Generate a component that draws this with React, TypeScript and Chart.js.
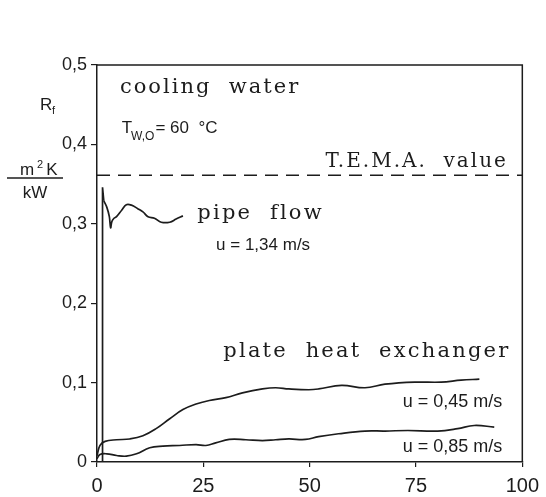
import React, { useEffect, useRef } from "react";
import { Chart, registerables } from "chart.js";

Chart.register(...registerables);

// Data (x = time, y = fouling resistance R_f in m²K/kW)
const pipeSpikeX = [1.3, 1.3, 1.6];
const pipeSpikeY = [0, 0.346, 0.329];
const pipeX = [1.6, 2.3, 2.9, 3.2, 3.5, 4.0, 4.6, 5.8, 6.9, 8.1, 9.6, 10.8, 12.0, 13.5, 15.1, 17.1, 18.6, 20.2];
const pipeY = [0.329, 0.321, 0.309, 0.295, 0.303, 0.307, 0.309, 0.317, 0.324, 0.3235, 0.319, 0.315, 0.309, 0.307, 0.302, 0.302, 0.306, 0.310];

const plate045X = [0, 0.7, 1.9, 4.6, 7.7, 10.8, 13.9, 17.1, 20.2, 23.3, 26.4, 30.3, 34.2, 38.9, 42, 45.1, 49.8, 52.1, 57.5, 63, 67.7, 74.7, 80.9, 85.6, 89.9];
const plate045Y = [0.008, 0.021, 0.026, 0.028, 0.029, 0.033, 0.042, 0.0545, 0.066, 0.073, 0.0775, 0.081, 0.087, 0.092, 0.0935, 0.092, 0.091, 0.092, 0.0965, 0.0935, 0.098, 0.1006, 0.1006, 0.103, 0.1044];

const plate085X = [0, 0.7, 2.3, 4.6, 6.9, 9.3, 12.4, 15.5, 19.4, 23.3, 25.6, 27.9, 31.1, 35, 38.9, 42, 45.1, 49, 52.1, 56.8, 63, 67.7, 73.1, 80.1, 84.8, 88.7, 93.4];
const plate085Y = [0.004, 0.0095, 0.0103, 0.0082, 0.0073, 0.0103, 0.018, 0.02, 0.0208, 0.022, 0.0208, 0.024, 0.0284, 0.028, 0.027, 0.028, 0.029, 0.0284, 0.032, 0.0356, 0.039, 0.039, 0.0397, 0.039, 0.042, 0.046, 0.044];

const temaX = [0, 100];
const temaY = [0.361, 0.361];

const xTicks = [0, 25, 50, 75, 100];
const yTicks = [0, 0.1, 0.2, 0.3, 0.4, 0.5];

const INK = "#1c1c1c";
const SERIF = "'DejaVu Serif', serif";
const SANS = "'Liberation Sans', Arial, sans-serif";

type Label = { text: string; x: number; y: number; font: string; align: CanvasTextAlign; spacing?: string };
const labels: Label[] = [
  { text: "cooling  water", x: 5.4, y: 0.4647, font: `21px ${SERIF}`, align: "left", spacing: "2px" },
  { text: "T.E.M.A.  value", x: 96.6, y: 0.3714, font: `20px ${SERIF}`, align: "right", spacing: "2px" },
  { text: "pipe  flow", x: 23.6, y: 0.3058, font: `21px ${SERIF}`, align: "left", spacing: "2.2px" },
  { text: "u = 1,34 m/s", x: 28.0, y: 0.2667, font: `17px ${SANS}`, align: "left" },
  { text: "plate  heat  exchanger", x: 97.2, y: 0.1318, font: `21px ${SERIF}`, align: "right", spacing: "2.2px" },
  { text: "u = 0,45 m/s", x: 95.3, y: 0.0687, font: `18px ${SANS}`, align: "right" },
  { text: "u = 0,85 m/s", x: 95.3, y: 0.012, font: `18px ${SANS}`, align: "right" },
];

const toPts = (xs: number[], ys: number[]) => xs.map((x, i) => ({ x, y: ys[i] }));

const overlayPlugin = {
  id: "overlay",
  afterDatasetsDraw(chart: any) {
    const { ctx, chartArea, scales } = chart;
    const xs = scales.x;
    const ys = scales.y;
    ctx.save();
    // frame (top and right)
    ctx.strokeStyle = INK;
    ctx.lineWidth = 1.5;
    ctx.beginPath();
    ctx.moveTo(chartArea.left, chartArea.top);
    ctx.lineTo(chartArea.right, chartArea.top);
    ctx.lineTo(chartArea.right, chartArea.bottom);
    ctx.stroke();
    ctx.fillStyle = INK;
    ctx.textBaseline = "alphabetic";
    for (const l of labels) {
      ctx.font = l.font;
      (ctx as any).letterSpacing = l.spacing || "0px";
      ctx.textAlign = l.align;
      ctx.fillText(l.text, xs.getPixelForValue(l.x), ys.getPixelForValue(l.y));
    }
    (ctx as any).letterSpacing = "0px";
    // T_W,O = 60 °C
    const tx = xs.getPixelForValue(5.8);
    const ty = ys.getPixelForValue(0.414);
    ctx.textAlign = "left";
    ctx.font = `17px ${SANS}`;
    ctx.fillText("T", tx, ty);
    let w = ctx.measureText("T").width - 1;
    ctx.font = `12px ${SANS}`;
    ctx.fillText("W,O", tx + w, ty + 7);
    w += ctx.measureText("W,O").width + 1;
    ctx.font = `17px ${SANS}`;
    ctx.fillText("= 60  °C", tx + w, ty);

    // y-axis title R_f and fraction
    ctx.font = `17px ${SANS}`;
    ctx.textAlign = "left";
    ctx.fillText("R", 40, 110);
    ctx.font = `11px ${SANS}`;
    ctx.fillText("f", 52, 114);
    ctx.font = `17px ${SANS}`;
    ctx.textAlign = "center";
    ctx.fillText("m", 27, 175);
    ctx.font = `11px ${SANS}`;
    ctx.fillText("2", 40, 168);
    ctx.font = `17px ${SANS}`;
    ctx.fillText("K", 52, 175);
    ctx.fillText("kW", 35, 198);
    ctx.lineWidth = 1.5;
    ctx.beginPath();
    ctx.moveTo(7, 178);
    ctx.lineTo(63, 178);
    ctx.stroke();
    ctx.restore();
  },
};

export default function App() {
  const ref = useRef<HTMLCanvasElement>(null);
  useEffect(() => {
    if (!ref.current) return;
    const lineDs = (data: any[], tension: number, extra: any = {}) => ({
      data,
      borderColor: INK,
      borderWidth: 1.7,
      pointRadius: 0,
      fill: false,
      tension,
      ...extra,
    });
    const chart = new Chart(ref.current, {
      type: "line",
      data: {
        datasets: [
          lineDs(toPts(temaX, temaY), 0, { borderDash: [13, 8], borderWidth: 1.5 }),
          lineDs(toPts(pipeSpikeX, pipeSpikeY), 0),
          lineDs(toPts(pipeX, pipeY), 0.4),
          lineDs(toPts(plate045X, plate045Y), 0.4),
          lineDs(toPts(plate085X, plate085Y), 0.4),
        ],
      },
      options: {
        animation: false,
        responsive: false,
        layout: { padding: { top: 65, right: 21, left: 0, bottom: 0 } },
        plugins: { legend: { display: false }, tooltip: { enabled: false } },
        scales: {
          x: {
            type: "linear",
            min: 0,
            max: 100,
            afterBuildTicks: (s: any) => {
              s.ticks = xTicks.map((v) => ({ value: v }));
            },
            afterFit: (s: any) => {
              s.height = 35;
            },
            grid: { display: true, drawOnChartArea: false, drawTicks: true, tickLength: 5, color: INK, lineWidth: 1.2 },
            border: { display: true, color: INK, width: 1.5 },
            ticks: {
              color: INK,
              font: { family: "'Liberation Sans', Arial, sans-serif", size: 20 },
              padding: 7,
              maxRotation: 0,
              callback: (v: any) => String(v),
            },
          },
          y: {
            type: "linear",
            min: 0,
            max: 0.5,
            afterBuildTicks: (s: any) => {
              s.ticks = yTicks.map((v) => ({ value: v }));
            },
            afterFit: (s: any) => {
              s.width = 97;
            },
            grid: { display: true, drawOnChartArea: false, drawTicks: true, tickLength: 6, color: INK, lineWidth: 1.2 },
            border: { display: true, color: INK, width: 1.5 },
            ticks: {
              color: INK,
              font: { family: "'Liberation Sans', Arial, sans-serif", size: 18 },
              padding: 4,
              callback: (v: any) => (v === 0 ? "0" : Number(v).toFixed(1).replace(".", ",")),
            },
          },
        },
      },
      plugins: [overlayPlugin],
    } as any);
    return () => chart.destroy();
  }, []);
  return (
    <div style={{ position: "absolute", left: 0, top: 0, width: 546, height: 497, background: "#fff" }}>
      <canvas ref={ref} width={546} height={497} style={{ display: "block" }} />
    </div>
  );
}
